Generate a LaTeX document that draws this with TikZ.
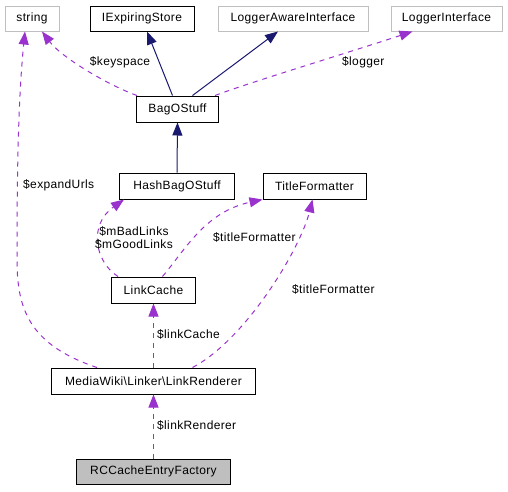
\documentclass[tikz,border=0pt]{standalone}
\usepackage{fontspec}
\usetikzlibrary{arrows.meta,calc}
\newfontfamily\dxfont{Liberation Sans}[LetterSpace=3]
\definecolor{navyc}{HTML}{191970}
\definecolor{purp}{HTML}{9A32CD}
\definecolor{greyb}{HTML}{BFBFBF}
\begin{document}
\begin{tikzpicture}[x=1pt,y=-1pt,
  every node/.style={font=\dxfont\fontsize{12}{13}\selectfont},
  box/.style={draw=black,line width=1pt,inner sep=0pt,minimum height=26pt,fill=white},
  gbox/.style={box,draw=greyb},
  inh/.style={draw=navyc,line width=1pt,-{Triangle[length=13pt,width=10pt,fill=navyc]}},
  dep/.style={draw=purp,line width=1pt,dash pattern=on 5pt off 5pt,-{Triangle[length=13pt,width=10pt,fill=purp]}},
  lbl/.style={inner sep=0pt}]
\useasboundingbox (0,0) rectangle (508,491);
% nodes
\node[gbox,minimum width=54pt,minimum height=25pt] (string) at (32,18.5) {string};
\node[box,minimum width=104pt,minimum height=25pt] (iexp) at (142,18.5) {IExpiringStore};
\node[gbox,minimum width=150pt,minimum height=25pt] (lai) at (293,18.5) {LoggerAwareInterface};
\node[gbox,minimum width=111pt,minimum height=25pt] (li) at (446.5,18.5) {LoggerInterface};
\node[box,minimum width=82pt] (bag) at (177.5,109) {BagOStuff};
\node[box,minimum width=115pt] (hash) at (177,186) {HashBagOStuff};
\node[box,minimum width=103pt] (tf) at (314.5,186) {TitleFormatter};
\node[box,minimum width=84pt] (lc) at (153.5,290) {LinkCache};
\node[box,minimum width=204pt] (lr) at (153.5,381) {MediaWiki\textbackslash Linker\textbackslash LinkRenderer};
\node[box,fill=greyb,minimum width=154pt,minimum height=25pt] (rc) at (153.5,471.5) {RCCacheEntryFactory};
% inheritance
\draw[inh] ($(bag.north)+(-5,0)$) -- ($(iexp.south)+(5,0)$);
\draw[inh] ($(bag.north)+(15,0)$) -- ($(lai.south)+(-15,0)$);
\draw[inh] (hash.north) -- (bag.south);
% dependencies
\draw[dep] ($(bag.north west)+(1,0)$) .. controls (110,86) and (62,58) .. ($(string.south)+(10,0)$);
\draw[dep] ($(bag.north east)+(-4,0)$) .. controls (245,84) and (350,52) .. ($(li.south)+(-34,0)$);
\draw[dep] ($(lr.north west)+(46,0)$) .. controls (30,345) and (17,310) .. (17,260) .. controls (17,180) and (18,100) .. ($(string.south)+(-7,0)$);
\draw[dep] ($(lc.north west)+(7,0)$) .. controls (95,262) and (88,225) .. ($(hash.south west)+(5,0)$);
\draw[dep] ($(lc.north)+(9,0)$) .. controls (185,250) and (205,212) .. (tf.south west);
\draw[dep] ($(lr.north)+(39,0)$) .. controls (245,340) and (300,250) .. ($(tf.south)+(-2,0)$);
\draw[dep] (lr.north) -- (lc.south);
\draw[dep] (rc.north) -- (lr.south);
% labels
\node[lbl] (l1) at (120,62) {\$keyspace};
\node[lbl,anchor=west] (l2) at (342,62) {\$logger};
\node[lbl,anchor=west] (l3) at (23,185) {\$expandUrls};
\node[lbl,align=center] (l4) at (134,237.5) {\$mBadLinks\\\$mGoodLinks};
\node[lbl,anchor=west] (l5) at (213,237) {\$titleFormatter};
\node[lbl,anchor=west] (l6) at (292,289) {\$titleFormatter};
\node[lbl,anchor=west] (l7) at (157,334) {\$linkCache};
\node[lbl,anchor=west] (l8) at (157,425) {\$linkRenderer};
\end{tikzpicture}
\end{document}
